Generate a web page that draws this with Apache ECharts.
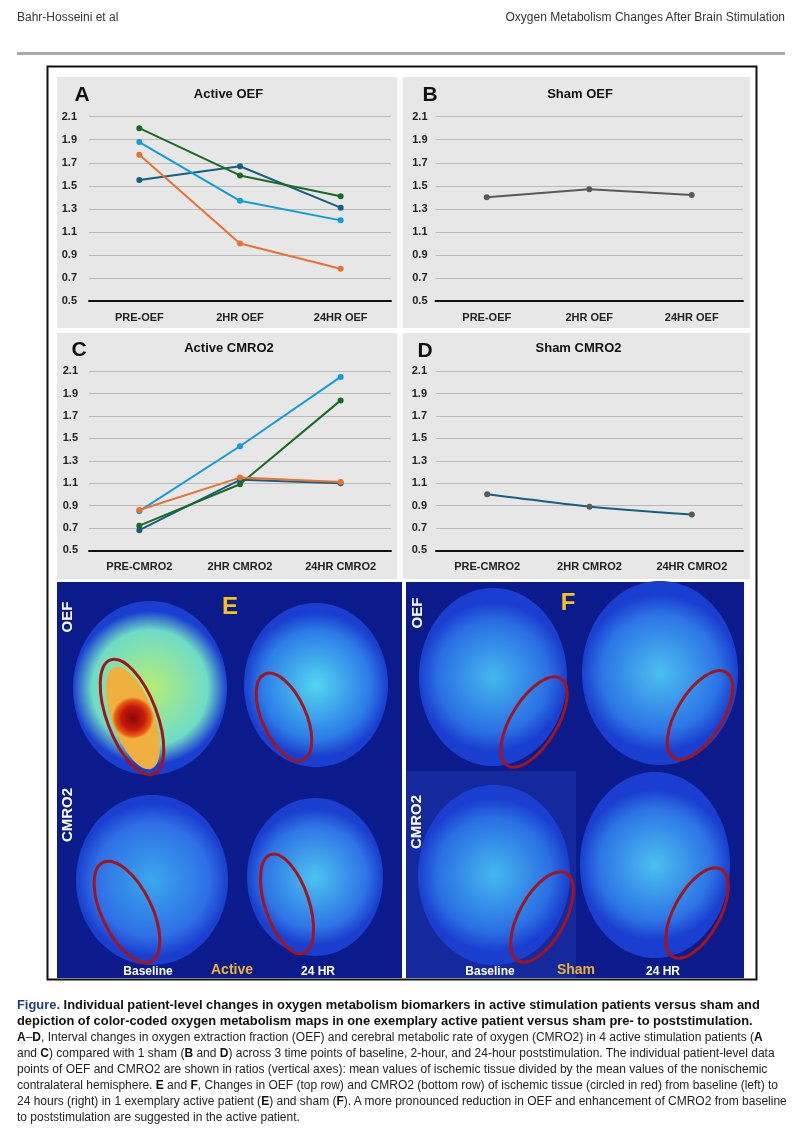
<!DOCTYPE html>
<html>
<head>
<meta charset="utf-8">
<script src="https://cdn.jsdelivr.net/npm/echarts@6/dist/echarts.min.js"></script>
<style>
  html, body { margin: 0; padding: 0; background: #fff; }
  #wrap { position: relative; width: 802px; height: 1132px; overflow: hidden; }
  #chart { position: absolute; left: 0; top: 0; width: 802px; height: 1132px; }
  .hdr { position: absolute; top: 10px; font-family: "Liberation Sans", Arial, sans-serif; font-size: 12px; color: #333; white-space: nowrap; }
  #rule { position: absolute; left: 17px; top: 52px; width: 768px; height: 3px; background: #a9a9a9; }
  #cap { position: absolute; left: 17px; top: 997px; width: 785px; font-family: "Liberation Sans", Arial, sans-serif; font-size: 12px; line-height: 16px; color: #222; }
  #cap div { white-space: nowrap; }
  #cap .bd { font-weight: bold; color: #111; font-size: 12.9px; }
  #cap .fig { color: #1f3f7a; font-weight: bold; }
  #cap b { color: #111; }
</style>
</head>
<body>
<div id="wrap">
  <div id="chart"></div>
  <div class="hdr" style="left:17px;">Bahr-Hosseini et al</div>
  <div class="hdr" style="right:17px;">Oxygen Metabolism Changes After Brain Stimulation</div>
  <div id="rule"></div>
  <div id="cap">
    <div class="bd"><span class="fig">Figure.</span> Individual patient-level changes in oxygen metabolism biomarkers in active stimulation patients versus sham and</div>
    <div class="bd">depiction of color-coded oxygen metabolism maps in one exemplary active patient versus sham pre- to poststimulation.</div>
    <div><b>A</b>–<b>D</b>, Interval changes in oxygen extraction fraction (OEF) and cerebral metabolic rate of oxygen (CMRO2) in 4 active stimulation patients (<b>A</b></div>
    <div>and <b>C</b>) compared with 1 sham (<b>B</b> and <b>D</b>) across 3 time points of baseline, 2-hour, and 24-hour poststimulation. The individual patient-level data</div>
    <div>points of OEF and CMRO2 are shown in ratios (vertical axes): mean values of ischemic tissue divided by the mean values of the nonischemic</div>
    <div>contralateral hemisphere. <b>E</b> and <b>F</b>, Changes in OEF (top row) and CMRO2 (bottom row) of ischemic tissue (circled in red) from baseline (left) to</div>
    <div>24 hours (right) in 1 exemplary active patient (<b>E</b>) and sham (<b>F</b>). A more pronounced reduction in OEF and enhancement of CMRO2 from baseline</div>
    <div>to poststimulation are suggested in the active patient.</div>
  </div>
</div>
<script>
// ---------- data ----------
const oefCategories = ['PRE-OEF', '2HR OEF', '24HR OEF'];
const cmroCategories = ['PRE-CMRO2', '2HR CMRO2', '24HR CMRO2'];
const yTickMin = 0.5;   // lowest tick label
const yTickMax = 2.1;
const yTickStep = 0.2;

const activeOefP1 = [1.55, 1.67, 1.31]; // dark blue
const activeOefP2 = [1.77, 1.00, 0.78]; // orange
const activeOefP3 = [2.00, 1.59, 1.41]; // green
const activeOefP4 = [1.88, 1.37, 1.20]; // light blue
const shamOef = [1.40, 1.47, 1.42];

const activeCmroP1 = [0.68, 1.13, 1.10]; // dark blue
const activeCmroP2 = [0.86, 1.15, 1.11]; // orange
const activeCmroP3 = [0.72, 1.09, 1.84]; // green
const activeCmroP4 = [0.85, 1.43, 2.05]; // light blue
const shamCmro = [1.00, 0.89, 0.82];

// ---------- helpers ----------
const FONT = '"Liberation Sans", Arial, sans-serif';
const C_DARK = '#156082', C_ORANGE = '#E97132', C_GREEN = '#196B24', C_LIGHT = '#0F9ED5', C_GREY = '#595959';
// axis runs from 0 so ticks fall on multiples of the step; labels add the offset back
const shift = arr => arr.map(v => +(v - yTickMin).toFixed(3));

const grids = [
  { left: 89, top: 116.7, width: 302, height: 184.3 },
  { left: 435.5, top: 116.7, width: 307.5, height: 184.3 },
  { left: 89, top: 371.3, width: 302, height: 179 },
  { left: 436, top: 371.3, width: 307, height: 179 }
];
const labelMargins = [12, 8, 11, 9];

function xAxis(i, cats) {
  return {
    type: 'category', gridIndex: i, data: cats, boundaryGap: true,
    axisLine: { show: true, lineStyle: { color: '#111', width: 2 } },
    axisTick: { show: false },
    axisLabel: { fontFamily: FONT, fontWeight: 'bold', fontSize: 11, color: '#222', margin: 11 }
  };
}
function yAxis(i) {
  return {
    type: 'value', gridIndex: i, min: 0, max: +(yTickMax - yTickMin).toFixed(2), interval: yTickStep,
    axisLine: { show: false }, axisTick: { show: false },
    splitLine: { lineStyle: { color: '#b9b9b9', width: 1 } },
    axisLabel: {
      fontFamily: FONT, fontWeight: 'bold', fontSize: 11, color: '#222', margin: labelMargins[i],
      formatter: v => (v + yTickMin).toFixed(1)
    }
  };
}
function line(i, data, color, symbolColor, smooth) {
  return {
    type: 'line', xAxisIndex: i, yAxisIndex: i, data: shift(data),
    symbol: 'circle', symbolSize: 6, smooth: smooth || false,
    lineStyle: { color: color, width: 2 },
    itemStyle: { color: symbolColor || color },
    emphasis: { disabled: true }, silent: true
  };
}
function titleItem(text, x, y, size) {
  return {
    text: text, left: x, top: y, textAlign: 'center', padding: 0,
    textStyle: { fontFamily: FONT, fontWeight: 'bold', fontSize: size, color: '#111' }
  };
}

// ---------- decorative map panels (E, F) ----------
const graphics = [];
function rect(x, y, w, h, fill, z) { graphics.push({ type: 'rect', shape: { x, y, width: w, height: h }, style: { fill }, z: z || 0, silent: true }); }
function blob(cx, cy, rx, ry, inner, outer, z) {
  graphics.push({ type: 'ellipse', x: cx, y: cy, shape: { cx: 0, cy: 0, rx, ry }, silent: true, z: z || 1,
    style: { fill: { type: 'radial', x: 0.5, y: 0.5, r: 0.5, colorStops: [{ offset: 0, color: inner }, { offset: 0.75, color: outer }, { offset: 1, color: '#1a3fd0' }] } } });
}
function ring(cx, cy, rx, ry, rot) {
  graphics.push({ type: 'ellipse', x: cx, y: cy, rotation: rot, shape: { cx: 0, cy: 0, rx, ry }, silent: true, z: 5,
    style: { fill: null, stroke: '#a3141b', lineWidth: 3 } });
}
function txt(text, x, y, size, color, rot) {
  graphics.push({ type: 'text', x, y, rotation: rot || 0, silent: true, z: 6,
    style: { text, fontFamily: FONT, fontWeight: 'bold', fontSize: size, fill: color, textAlign: 'center', textVerticalAlign: 'middle' } });
}

// grey chart panels
rect(57, 77, 340, 251, '#e7e7e7');
rect(403, 77, 347, 251, '#e7e7e7');
rect(57, 333, 340, 246, '#e7e7e7');
rect(403, 333, 347, 246, '#e7e7e7');
// outer frame
graphics.push({ type: 'rect', shape: { x: 47.5, y: 66.5, width: 709, height: 913 }, style: { fill: null, stroke: '#111', lineWidth: 2 }, z: 7, silent: true });
// map backgrounds
rect(57, 582, 345, 396, '#0c1b8c');
rect(406, 582, 338, 396, '#0c1b8c');
rect(406, 771, 170, 207, '#14299c');

// E: active patient
blob(150, 688, 77, 87, '#b6ee74', '#6fdcc6');
graphics.push({ type: 'ellipse', x: 133, y: 718, rotation: 0.35, shape: { cx: 0, cy: 0, rx: 21, ry: 54 }, silent: true, z: 2,
  style: { fill: { type: 'radial', x: 0.5, y: 0.5, r: 0.5, colorStops: [{ offset: 0, color: '#8a0606' }, { offset: 0.55, color: '#c41a0c' }, { offset: 0.85, color: '#e85a10' }, { offset: 1, color: '#f0b040' }] } } });
blob(316, 685, 72, 82, '#54d6f0', '#2c7ce8');
blob(152, 880, 76, 85, '#3aa8ee', '#2f6fe6');
blob(315, 877, 68, 79, '#4cc4f0', '#2f74e6');
// F: sham patient
blob(493, 677, 74, 89, '#45b8ef', '#2a6fe4');
blob(660, 673, 78, 92, '#4cc0f0', '#2c74e6');
blob(494, 875, 76, 90, '#45b8ef', '#2a6fe4');
blob(655, 865, 75, 93, '#4cc0f0', '#2c74e6');

ring(132, 717, 25, 61, 0.36);
ring(284, 717, 22, 47, 0.42);
ring(127, 912, 25, 55, 0.45);
ring(287, 904, 22, 52, 0.32);
ring(534, 722, 23, 51, -0.55);
ring(700, 715, 23, 50, -0.55);
ring(542, 917, 23, 50, -0.5);
ring(697, 913, 23, 50, -0.5);

txt('OEF', 68, 617, 15, '#ffffff', Math.PI / 2);
txt('CMRO2', 68, 815, 15, '#ffffff', Math.PI / 2);
txt('E', 230, 607, 24, '#f6c21a');
txt('Baseline', 148, 972, 12, '#ffffff');
txt('Active', 232, 970, 14, '#f2b22a');
txt('24 HR', 318, 972, 12, '#ffffff');
txt('OEF', 418, 613, 15, '#ffffff', Math.PI / 2);
txt('CMRO2', 417, 822, 15, '#ffffff', Math.PI / 2);
txt('F', 568, 603, 24, '#f6c21a');
txt('Baseline', 490, 972, 12, '#ffffff');
txt('Sham', 576, 970, 14, '#f2b22a');
txt('24 HR', 663, 972, 12, '#ffffff');

const option = {
  animation: false,
  backgroundColor: 'transparent',
  title: [
    titleItem('Active OEF', 228.5, 88, 13),
    titleItem('Sham OEF', 580, 88, 13),
    titleItem('Active CMRO2', 229, 342, 13),
    titleItem('Sham CMRO2', 578.5, 342, 13),
    titleItem('A', 82, 85, 21),
    titleItem('B', 430, 85, 21),
    titleItem('C', 79, 340, 21),
    titleItem('D', 425, 341, 21)
  ],
  grid: grids,
  xAxis: [xAxis(0, oefCategories), xAxis(1, oefCategories), xAxis(2, cmroCategories), xAxis(3, cmroCategories)],
  yAxis: [yAxis(0), yAxis(1), yAxis(2), yAxis(3)],
  series: [
    line(0, activeOefP1, C_DARK),
    line(0, activeOefP2, C_ORANGE),
    line(0, activeOefP4, C_LIGHT),
    line(0, activeOefP3, C_GREEN),
    line(1, shamOef, C_GREY),
    line(2, activeCmroP4, C_LIGHT),
    line(2, activeCmroP1, C_DARK),
    line(2, activeCmroP3, C_GREEN),
    line(2, activeCmroP2, C_ORANGE),
    line(3, shamCmro, C_DARK, C_GREY, 0.2)
  ],
  graphic: graphics
};

const chart = echarts.init(document.getElementById('chart'), null, { renderer: 'canvas' });
chart.setOption(option);
</script>
</body>
</html>
